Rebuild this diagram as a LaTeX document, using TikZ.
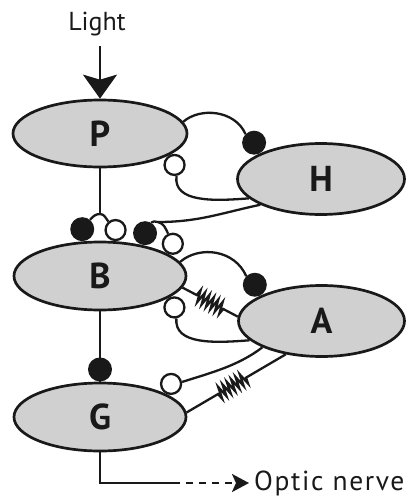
\documentclass[tikz,border=0pt]{standalone}
\usepackage{fontspec}
\setmainfont{PT Sans}
\newfontfamily\widesans[LetterSpace=6]{PT Sans}
\usetikzlibrary{shapes.geometric,arrows.meta,decorations.pathmorphing}
\definecolor{cellgray}{RGB}{208,208,208}
\definecolor{ink}{RGB}{25,25,25}
\begin{document}
\begin{tikzpicture}[x=1pt,y=-1pt, color=ink,
  cell/.style={ellipse, draw=ink, line width=2.7pt, fill=cellgray, inner sep=0pt,
    font=\fontsize{36}{36}\selectfont\bfseries},
  conn/.style={draw=ink, line width=2.3pt},
  exc/.style={circle, fill=ink, minimum size=24pt, inner sep=0pt},
  inh/.style={circle, draw=ink, line width=2.3pt, fill=white, minimum size=20pt, inner sep=0pt},
  spring/.style n args={2}{conn, decorate, decoration={zigzag, segment length=5pt,
    amplitude=6pt, pre length=#1, post length=#2}}
]
\useasboundingbox (0,0) rectangle (407,498);

% cells
\node[cell, minimum width=174pt, minimum height=67pt] (P) at (100,133.5) {P};
\node[cell, minimum width=167pt, minimum height=71pt] (H) at (321,179) {H};
\node[cell, minimum width=172pt, minimum height=68pt] (B) at (100,276) {B};
\node[cell, minimum width=166pt, minimum height=71pt] (A) at (321.5,321) {A};
\node[cell, minimum width=172pt, minimum height=68pt] (G) at (100,417) {G};

% synapses
\node[exc, anchor=-86]  (f1)  at (B.116) {};
\node[inh, anchor=-94]  (o1)  at (B.67) {};
\node[exc, anchor=-102] (f2)  at (B.36) {};
\node[inh, anchor=-115] (o2)  at (B.18) {};
\node[exc, anchor=-67]  (fPH) at (H.158) {};
\node[inh, anchor=115]  (oHP) at (P.-17) {};
\node[exc, anchor=-67]  (fBA) at (A.158) {};
\node[inh, anchor=115]  (oAB) at (B.-17) {};
\node[inh, anchor=-114] (oAG) at (G.19.5) {};
\node[exc, anchor=south] (fBG) at (G.north) {};

% light input
\node[font=\fontsize{26}{26}\selectfont] (light) at (97,24) {Light};
\coordinate (la) at (100,46);
\draw[draw=ink, line width=2.5pt, -{Stealth[length=24pt,width=34pt,inset=5pt]}] (la) -- (P.north);

% P -> B
\coordinate (j1) at (100,214);
\draw[conn] (P.south) -- (j1);
\draw[conn] (f1.50) to[out=50,in=180] (j1) to[out=0,in=130] (o1.130);

% H -> B
\coordinate (j2) at (158,222);
\draw[conn] (H.203) to[out=192,in=0] (j2) to[out=180,in=60] (f2.60);
\draw[conn] (j2) to[out=-15,in=115] (o2.115);

% P <-> H
\draw[conn] (P.8) .. controls (200,107) and (235,110) .. (fPH.135);
\draw[conn] (oHP.-80) .. controls (173,203) and (215,201) .. (H.195);

% B <-> A
\draw[conn] (B.10) .. controls (200,245) and (235,250) .. (fBA.135);
\draw[conn] (oAB.-80) .. controls (174,345) and (215,343) .. (A.195);
\draw[spring={16pt}{16pt}] (B.-8) -- (A.177);

% A -> G
\draw[conn] (A.204) .. controls (238,366) and (210,373) .. (oAG.10);
\draw[spring={46pt}{34pt}] (A.223) -- (G.3);

% B -> G
\draw[conn] (B.south) -- (fBG.south);

% output
\coordinate (c1) at (100,483);
\coordinate (c2) at (173,483);
\coordinate (c3) at (249,483);
\draw[conn] (G.south) -- (c1) -- (c2);
\draw[conn, dash pattern=on 7pt off 6pt, -{Stealth[length=17pt,width=18pt,inset=4pt]}] (c2) -- (c3);
\node[anchor=base west, inner sep=0pt, font=\widesans\fontsize{27.5}{27.5}\selectfont] (optic) at (254,490.5) {Optic nerve};
\end{tikzpicture}
\end{document}
